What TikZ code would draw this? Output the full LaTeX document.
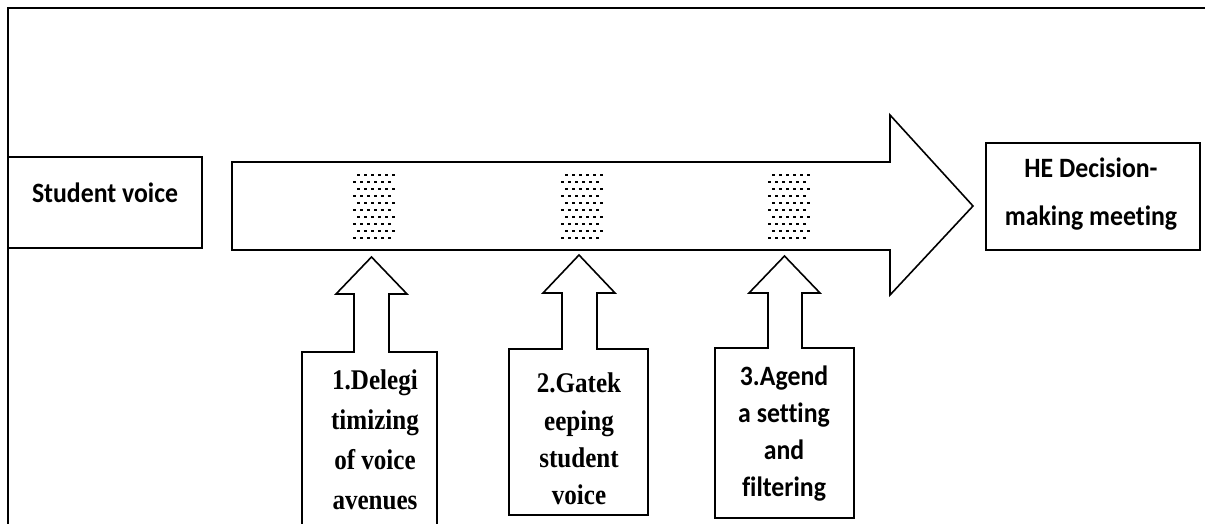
\documentclass[tikz,border=0pt]{standalone}
\usepackage{fontspec}
\setmainfont{Carlito}[FakeStretch=0.92,Ligatures=NoCommon]
\newfontfamily\tnrfont{Liberation Serif}[FakeStretch=0.88]
\begin{document}
\begin{tikzpicture}[x=1pt,y=-1pt,line join=miter,
  framestyle/.style={draw,line width=2.8pt},
  boxstyle/.style={draw,line width=1.8pt,fill=white},
  arrowshape/.style={draw,line width=1.6pt,fill=white},
  caltext/.style={font=\fontsize{28}{37}\selectfont\bfseries,align=center,inner sep=0pt},
  tnrtext/.style={font=\tnrfont\fontsize{28.5}{40}\selectfont\bfseries,align=center,inner sep=0pt}]
\useasboundingbox (0,0) rectangle (1205,524);
\clip (0,0) rectangle (1205,524);
% outer frame (open beyond the picture on right and bottom)
\draw[framestyle] (8,8) rectangle (1240,560);
% Student voice box
\draw[boxstyle] (8,157) rectangle (202,248);
\node[caltext] (sv) at (105,193) {Student voice};
% main arrow
\draw[arrowshape] (232,162) -- (890,162) -- (890,115) -- (973,206) -- (890,295) -- (890,250) -- (232,250) -- cycle;
% HE box
\draw[boxstyle] (986,143) rectangle (1200,250);
\node[caltext,font=\fontsize{28}{48}\selectfont\bfseries] (he) at (1091,194) {HE Decision-\\making meeting};
% dotted patterns
\foreach \cx in {374,582,789}{
  \foreach \r in {0,...,9}{
    \foreach \k in {0,...,5}{
      \pgfmathsetmacro{\dx}{mod(\r,2)==0 ? -15.75 : -19.25}
      \fill ({\cx+\dx+7*\k-1.4},{175+7*\r-1.4}) rectangle ++(2.8,2.8);
    }
  }
}
% up-arrow callouts
\draw[arrowshape] (302,560) -- (302,352) -- (354,352) -- (354,294) -- (336,294) -- (371.5,257) -- (407,294) -- (389,294) -- (389,352) -- (437,352) -- (437,560);
\draw[arrowshape] (509,515) -- (509,349) -- (562,349) -- (562,293) -- (543,293) -- (579,255) -- (615,293) -- (597,293) -- (597,349) -- (648,349) -- (648,515) -- cycle;
\draw[arrowshape] (715,518) -- (715,348) -- (768,348) -- (768,293) -- (749,293) -- (784.5,256) -- (820,293) -- (802,293) -- (802,348) -- (854,348) -- (854,518) -- cycle;
\node[tnrtext] (c1) at (375,440) {1.Delegi\\timizing\\of voice\\avenues};
\node[tnrtext,font=\tnrfont\fontsize{28.5}{37.3}\selectfont\bfseries] (c2) at (579,439) {2.Gatek\\eeping\\student\\voice};
\node[caltext] (c3) at (784,434) {3.Agend\\a setting\\and\\filtering};
\end{tikzpicture}
\end{document}
